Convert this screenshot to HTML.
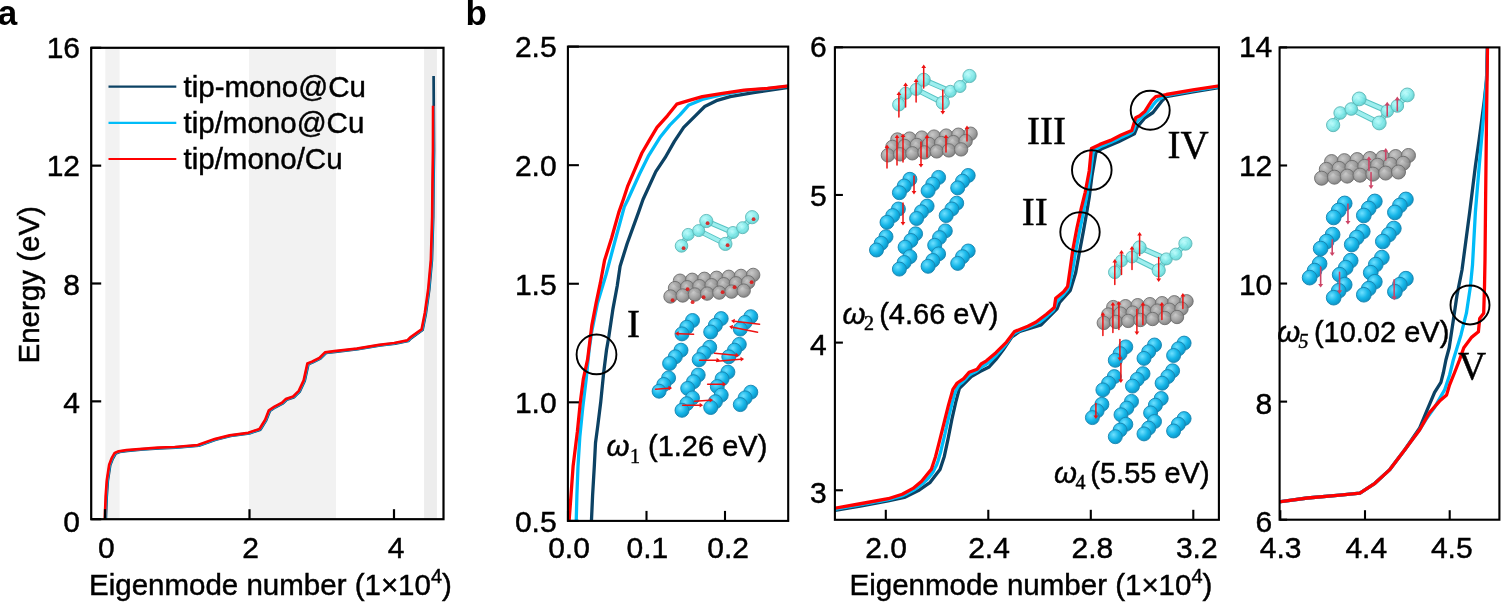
<!DOCTYPE html>
<html><head><meta charset="utf-8"><style>
html,body{margin:0;padding:0;background:#fff;}
svg{display:block;}
</style></head><body>
<svg width="1501" height="602" viewBox="0 0 1501 602">
<rect width="1501" height="602" fill="#fff"/>
<rect x="105.3" y="47.8" width="14.3" height="471.40000000000003" fill="#f2f2f2"/>
<rect x="249" y="47.8" width="87" height="471.40000000000003" fill="#f2f2f2"/>
<rect x="424.1" y="47.8" width="12.8" height="471.40000000000003" fill="#ededed"/>
<polyline points="105.8,519.6 106.7,496.8 107.8,481.1 110.2,465.3 112.6,459.0 115.7,453.5 119.7,451.9 127.5,450.8 143.3,449.5 159.1,448.3 175.7,447.6 198.8,445.7 215.7,439.7 230.6,436.0 249.3,433.4 260.5,429.6 266.2,420.3 269.9,410.9 275.5,407.2 283.0,403.4 286.7,399.7 294.2,397.1 299.8,391.5 304.7,381.0 308.4,364.2 312.9,362.3 320.4,358.6 326.0,353.0 335.3,351.8 357.8,349.2 380.2,345.5 395.2,343.6 408.3,341.0 411.0,338.3 422.6,330.0 425.9,313.4 429.2,290.1 431.9,260.2 433.2,217.0 433.5,183.8 434.0,150.6 433.6,76.0" fill="none" stroke="#0c4264" stroke-width="2.7" stroke-linejoin="round" stroke-linecap="butt"/>
<polyline points="105.3,519.3 106.2,496.5 107.3,480.8 109.7,465.0 112.1,458.7 115.2,453.2 119.2,451.6 127.0,450.5 142.8,449.2 158.6,448.0 175.2,447.3 198.3,445.4 215.2,439.4 230.1,435.7 248.8,433.1 260.0,429.3 265.7,420.0 269.4,410.6 275.0,406.9 282.5,403.1 286.2,399.4 293.7,396.8 299.3,391.2 304.2,380.7 307.9,363.9 312.4,362.0 319.9,358.3 325.5,352.7 334.8,351.5 357.3,348.9 379.7,345.2 394.7,343.3 407.8,340.7 410.5,338.0 422.1,329.7 425.4,313.1 428.7,289.8 431.4,259.9 432.7,216.7 433.0,183.5 433.5,150.3 433.6,106.0" fill="none" stroke="#00bcf8" stroke-width="2.7" stroke-linejoin="round" stroke-linecap="butt"/>
<polyline points="104.8,519.0 105.7,496.2 106.8,480.5 109.2,464.7 111.6,458.4 114.7,452.9 118.7,451.3 126.5,450.2 142.3,448.9 158.1,447.7 174.7,447.0 197.8,445.1 214.7,439.1 229.6,435.4 248.3,432.8 259.5,429.0 265.2,419.7 268.9,410.3 274.5,406.6 282.0,402.8 285.7,399.1 293.2,396.5 298.8,390.9 303.7,380.4 307.4,363.6 311.9,361.7 319.4,358.0 325.0,352.4 334.3,351.2 356.8,348.6 379.2,344.9 394.2,343.0 407.3,340.4 410.0,337.7 421.6,329.4 424.9,312.8 428.2,289.5 430.9,259.6 432.2,216.4 432.5,183.2 433.0,150.0 433.1,105.7" fill="none" stroke="#ff0000" stroke-width="2.7" stroke-linejoin="round" stroke-linecap="butt"/>
<rect x="91.20" y="47.80" width="352.30" height="471.40" fill="none" stroke="#000" stroke-width="2.2"/>
<line x1="91.20" y1="519.20" x2="101.20" y2="519.20" stroke="#000" stroke-width="2.2"/>
<text x="80.0" y="532.1" font-size="30" text-anchor="end" font-family="'Liberation Sans', Arial, Helvetica, sans-serif" font-weight="normal" font-style="normal" stroke="#000" stroke-width="0.45" >0</text>
<line x1="91.20" y1="401.35" x2="101.20" y2="401.35" stroke="#000" stroke-width="2.2"/>
<text x="80.0" y="413.4" font-size="30" text-anchor="end" font-family="'Liberation Sans', Arial, Helvetica, sans-serif" font-weight="normal" font-style="normal" stroke="#000" stroke-width="0.45" >4</text>
<line x1="91.20" y1="283.50" x2="101.20" y2="283.50" stroke="#000" stroke-width="2.2"/>
<text x="80.0" y="294.8" font-size="30" text-anchor="end" font-family="'Liberation Sans', Arial, Helvetica, sans-serif" font-weight="normal" font-style="normal" stroke="#000" stroke-width="0.45" >8</text>
<line x1="91.20" y1="165.65" x2="101.20" y2="165.65" stroke="#000" stroke-width="2.2"/>
<text x="80.0" y="176.1" font-size="30" text-anchor="end" font-family="'Liberation Sans', Arial, Helvetica, sans-serif" font-weight="normal" font-style="normal" stroke="#000" stroke-width="0.45" >12</text>
<line x1="91.20" y1="47.80" x2="101.20" y2="47.80" stroke="#000" stroke-width="2.2"/>
<text x="80.0" y="57.5" font-size="30" text-anchor="end" font-family="'Liberation Sans', Arial, Helvetica, sans-serif" font-weight="normal" font-style="normal" stroke="#000" stroke-width="0.45" >16</text>
<line x1="105.00" y1="519.20" x2="105.00" y2="509.20" stroke="#000" stroke-width="2.2"/>
<text x="106.3" y="558.0" font-size="30" text-anchor="middle" font-family="'Liberation Sans', Arial, Helvetica, sans-serif" font-weight="normal" font-style="normal" stroke="#000" stroke-width="0.45" >0</text>
<line x1="249.50" y1="519.20" x2="249.50" y2="509.20" stroke="#000" stroke-width="2.2"/>
<text x="250.7" y="558.0" font-size="30" text-anchor="middle" font-family="'Liberation Sans', Arial, Helvetica, sans-serif" font-weight="normal" font-style="normal" stroke="#000" stroke-width="0.45" >2</text>
<line x1="394.00" y1="519.20" x2="394.00" y2="509.20" stroke="#000" stroke-width="2.2"/>
<text x="396.1" y="558.0" font-size="30" text-anchor="middle" font-family="'Liberation Sans', Arial, Helvetica, sans-serif" font-weight="normal" font-style="normal" stroke="#000" stroke-width="0.45" >4</text>
<line x1="108.50" y1="86.60" x2="176.30" y2="86.60" stroke="#0c4264" stroke-width="2.2"/>
<text x="183.5" y="97.0" font-size="29.5" text-anchor="start" font-family="'Liberation Sans', Arial, Helvetica, sans-serif" font-weight="normal" font-style="normal" stroke="#000" stroke-width="0.45" >tip-mono@Cu</text>
<line x1="108.50" y1="122.80" x2="176.30" y2="122.80" stroke="#00bcf8" stroke-width="2.2"/>
<text x="183.5" y="133.2" font-size="29.5" text-anchor="start" font-family="'Liberation Sans', Arial, Helvetica, sans-serif" font-weight="normal" font-style="normal" stroke="#000" stroke-width="0.45" >tip/mono@Cu</text>
<line x1="108.50" y1="159.00" x2="176.30" y2="159.00" stroke="#ff0000" stroke-width="2.2"/>
<text x="183.5" y="169.4" font-size="29.5" text-anchor="start" font-family="'Liberation Sans', Arial, Helvetica, sans-serif" font-weight="normal" font-style="normal" stroke="#000" stroke-width="0.45" >tip/mono/Cu</text>
<text x="89.0" y="594.9" font-size="29.5" text-anchor="start" font-family="'Liberation Sans', Arial, Helvetica, sans-serif" font-weight="normal" font-style="normal" stroke="#000" stroke-width="0.45" >Eigenmode number (1×10<tspan font-size="20" dy="-12">4</tspan><tspan dy="12">)</tspan></text>
<text transform="translate(38.9,284.8) rotate(-90)" font-size="29.5" text-anchor="middle" font-family="'Liberation Sans', Arial, Helvetica, sans-serif" stroke="#000" stroke-width="0.45">Energy (eV)</text>
<text x="-2.3" y="24.8" font-size="35" text-anchor="start" font-family="'Liberation Sans', Arial, Helvetica, sans-serif" font-weight="bold" font-style="normal" >a</text>
<text x="465.5" y="24.8" font-size="35" text-anchor="start" font-family="'Liberation Sans', Arial, Helvetica, sans-serif" font-weight="bold" font-style="normal" >b</text>
<clipPath id="c1"><rect x="567.9" y="46.6" width="220.30000000000007" height="474.29999999999995"/></clipPath>
<g clip-path="url(#c1)">
<polyline points="591.4,522.0 592.6,495.3 594.3,466.3 595.5,443.0 597.8,425.6 600.7,402.3 603.6,373.3 606.5,350.0 608.8,336.8 613.0,308.6 617.2,286.0 620.1,266.2 627.1,243.7 638.4,212.6 643.0,199.5 655.8,171.6 665.1,157.7 674.4,141.4 683.7,127.4 695.3,115.8 704.7,106.5 716.3,100.7 730.2,96.7 753.5,92.6 790.0,87.3" fill="none" stroke="#0c4264" stroke-width="3.3" stroke-linejoin="round" stroke-linecap="butt"/>
<polyline points="576.2,522.0 576.9,495.3 578.0,466.3 579.8,437.2 582.7,408.1 586.2,379.1 589.1,350.0 591.8,331.2 597.5,303.0 606.0,274.7 615.8,238.0 624.3,206.9 627.9,199.5 639.5,174.0 648.8,155.3 660.5,136.7 669.8,125.1 680.2,114.7 688.4,105.3 702.3,99.5 720.9,94.9 744.2,90.6 767.4,88.6 790.0,86.0" fill="none" stroke="#00bcf8" stroke-width="3.3" stroke-linejoin="round" stroke-linecap="butt"/>
<polyline points="569.0,522.0 571.0,495.3 573.1,466.3 577.4,431.4 580.3,402.3 583.3,379.1 587.6,359.4 591.8,325.6 596.1,303.0 600.3,283.2 604.5,260.6 611.6,238.0 618.7,212.6 623.3,199.5 627.9,185.6 634.9,169.3 641.9,153.0 650.0,139.1 657.0,127.4 667.4,115.8 676.7,104.2 688.4,100.7 702.3,96.7 720.9,93.7 744.2,90.2 767.4,88.4 790.0,85.8" fill="none" stroke="#ff0000" stroke-width="3.3" stroke-linejoin="round" stroke-linecap="butt"/>
</g>
<rect x="567.90" y="46.60" width="220.30" height="474.30" fill="none" stroke="#000" stroke-width="2.1"/>
<line x1="567.90" y1="520.90" x2="578.90" y2="520.90" stroke="#000" stroke-width="2.1"/>
<text x="556.6" y="532.3" font-size="30" text-anchor="end" font-family="'Liberation Sans', Arial, Helvetica, sans-serif" font-weight="normal" font-style="normal" stroke="#000" stroke-width="0.45" >0.5</text>
<line x1="567.90" y1="402.32" x2="578.90" y2="402.32" stroke="#000" stroke-width="2.1"/>
<text x="556.6" y="413.4" font-size="30" text-anchor="end" font-family="'Liberation Sans', Arial, Helvetica, sans-serif" font-weight="normal" font-style="normal" stroke="#000" stroke-width="0.45" >1.0</text>
<line x1="567.90" y1="283.75" x2="578.90" y2="283.75" stroke="#000" stroke-width="2.1"/>
<text x="556.6" y="294.6" font-size="30" text-anchor="end" font-family="'Liberation Sans', Arial, Helvetica, sans-serif" font-weight="normal" font-style="normal" stroke="#000" stroke-width="0.45" >1.5</text>
<line x1="567.90" y1="165.18" x2="578.90" y2="165.18" stroke="#000" stroke-width="2.1"/>
<text x="556.6" y="175.8" font-size="30" text-anchor="end" font-family="'Liberation Sans', Arial, Helvetica, sans-serif" font-weight="normal" font-style="normal" stroke="#000" stroke-width="0.45" >2.0</text>
<line x1="567.90" y1="46.60" x2="578.90" y2="46.60" stroke="#000" stroke-width="2.1"/>
<text x="556.6" y="56.9" font-size="30" text-anchor="end" font-family="'Liberation Sans', Arial, Helvetica, sans-serif" font-weight="normal" font-style="normal" stroke="#000" stroke-width="0.45" >2.5</text>
<line x1="568.00" y1="520.90" x2="568.00" y2="510.90" stroke="#000" stroke-width="2.1"/>
<text x="569.0" y="558.0" font-size="30" text-anchor="middle" font-family="'Liberation Sans', Arial, Helvetica, sans-serif" font-weight="normal" font-style="normal" stroke="#000" stroke-width="0.45" >0.0</text>
<line x1="646.50" y1="520.90" x2="646.50" y2="510.90" stroke="#000" stroke-width="2.1"/>
<text x="647.4" y="558.0" font-size="30" text-anchor="middle" font-family="'Liberation Sans', Arial, Helvetica, sans-serif" font-weight="normal" font-style="normal" stroke="#000" stroke-width="0.45" >0.1</text>
<line x1="725.00" y1="520.90" x2="725.00" y2="510.90" stroke="#000" stroke-width="2.1"/>
<text x="728.2" y="558.0" font-size="30" text-anchor="middle" font-family="'Liberation Sans', Arial, Helvetica, sans-serif" font-weight="normal" font-style="normal" stroke="#000" stroke-width="0.45" >0.2</text>
<clipPath id="c2"><rect x="834.9" y="47.3" width="384.0000000000001" height="472.49999999999994"/></clipPath>
<g clip-path="url(#c2)">
<polyline points="833.0,510.8 861.6,505.8 888.1,501.0 904.3,497.4 919.4,489.9 930.2,482.3 940.0,469.4 944.3,456.4 948.0,439.1 951.8,419.7 955.7,402.4 959.4,388.4 964.8,383.0 971.3,376.5 980.0,371.5 989.1,367.0 995.9,359.4 1003.0,350.0 1011.9,336.8 1019.8,331.5 1041.1,324.9 1057.0,308.9 1059.6,302.3 1070.3,290.3 1075.6,273.1 1079.5,251.9 1083.5,230.6 1086.8,212.0 1089.2,197.6 1091.9,176.3 1095.9,152.4 1102.5,148.4 1118.5,141.8 1134.4,133.8 1137.1,127.1 1145.0,117.8 1153.0,112.5 1162.3,100.6 1166.3,96.6 1192.9,91.8 1221.0,87.2" fill="none" stroke="#0c4264" stroke-width="3.3" stroke-linejoin="round" stroke-linecap="butt"/>
<polyline points="833.0,509.5 835.1,509.2 837.2,508.8 839.4,508.4 841.5,508.1 843.6,507.7 845.7,507.3 847.9,506.9 850.0,506.6 852.1,506.2 854.2,505.8 856.3,505.5 858.5,505.1 860.6,504.7 862.7,504.3 864.8,503.9 867.0,503.6 869.1,503.2 871.2,502.8 873.3,502.4 875.4,502.0 877.6,501.6 879.7,501.3 881.8,500.9 883.9,500.5 886.0,500.1 888.2,499.7 890.2,499.1 892.3,498.6 894.4,498.0 896.5,497.4 898.5,496.9 900.6,496.3 902.7,495.7 904.6,494.8 906.6,493.9 908.5,492.9 910.4,491.9 912.3,490.9 914.1,489.8 915.9,488.6 917.7,487.4 919.4,486.1 921.1,484.8 922.8,483.5 924.3,482.0 925.9,480.5 927.4,479.0 928.9,477.5 930.2,475.8 931.6,474.1 932.8,472.4 933.8,470.5 934.7,468.6 935.7,466.7 936.7,464.8 937.4,462.8 938.1,460.7 938.7,458.7 939.3,456.6 939.9,454.5 940.5,452.5 941.0,450.4 941.5,448.3 942.0,446.2 942.5,444.1 943.0,442.0 943.5,439.9 944.0,437.8 944.5,435.7 945.0,433.6 945.4,431.5 945.9,429.4 946.4,427.3 946.8,425.2 947.3,423.1 947.8,421.0 948.3,418.9 948.7,416.8 949.2,414.7 949.7,412.6 950.2,410.5 950.7,408.4 951.3,406.3 951.8,404.2 952.3,402.1 952.9,400.1 953.4,398.0 954.0,395.9 954.5,393.8 955.4,391.9 956.3,389.9 957.2,388.0 958.2,386.2 959.4,384.6 961.1,383.2 962.8,381.9 964.3,380.4 965.8,378.8 967.2,377.2 968.7,375.6 970.4,374.4 972.2,373.3 974.1,372.5 976.1,371.6 977.7,370.2 979.3,368.8 980.9,367.4 982.7,366.3 984.5,365.2 986.4,364.2 988.2,363.0 989.8,361.6 991.4,360.1 992.9,358.6 994.5,357.1 996.0,355.6 997.4,354.0 998.8,352.4 1000.3,350.8 1001.7,349.2 1003.1,347.6 1004.5,345.9 1005.9,344.3 1007.1,342.5 1008.4,340.8 1009.6,339.0 1010.9,337.3 1012.2,335.5 1013.5,333.8 1015.4,332.8 1017.3,331.8 1019.2,330.9 1021.1,329.9 1023.1,329.1 1025.1,328.4 1027.1,327.6 1029.1,326.8 1031.1,326.0 1033.1,325.1 1035.0,324.3 1036.9,323.3 1038.8,322.3 1040.6,321.3 1042.4,320.1 1044.1,318.7 1045.7,317.3 1047.3,315.9 1048.9,314.4 1050.5,313.0 1052.1,311.5 1053.5,310.0 1054.3,308.1 1055.2,306.3 1056.0,304.4 1056.6,302.4 1057.8,300.7 1059.1,299.0 1060.5,297.4 1062.1,296.0 1063.6,294.4 1064.9,292.8 1066.3,291.1 1067.6,289.4 1068.4,287.5 1069.2,285.6 1069.7,283.5 1070.1,281.4 1070.6,279.3 1071.0,277.2 1071.5,275.1 1071.9,273.0 1072.4,270.9 1072.8,268.8 1073.2,266.7 1073.5,264.6 1073.9,262.4 1074.2,260.3 1074.6,258.2 1074.9,256.0 1075.2,253.9 1075.6,251.8 1076.0,249.7 1076.4,247.6 1076.8,245.4 1077.2,243.3 1077.6,241.2 1078.0,239.1 1078.4,237.0 1078.8,234.9 1079.2,232.7 1079.6,230.6 1080.1,228.5 1080.5,226.4 1080.9,224.3 1081.4,222.2 1081.8,220.1 1082.2,218.0 1082.6,215.8 1083.1,213.7 1083.5,211.6 1083.9,209.5 1084.4,207.4 1084.8,205.3 1085.3,203.2 1085.7,201.1 1086.2,199.0 1086.6,196.9 1087.0,194.8 1087.4,192.6 1087.7,190.5 1088.1,188.4 1088.4,186.3 1088.7,184.1 1089.1,182.0 1089.4,179.9 1089.8,177.7 1090.1,175.6 1090.4,173.5 1090.6,171.3 1090.9,169.2 1091.2,167.1 1091.4,164.9 1091.7,162.8 1092.0,160.7 1092.3,158.5 1092.5,156.4 1092.8,154.3 1093.2,152.2 1094.4,150.7 1095.7,149.3 1097.5,148.2 1099.4,147.2 1101.3,146.3 1103.3,145.4 1105.3,144.6 1107.3,143.8 1109.3,143.0 1111.3,142.2 1113.2,141.3 1115.2,140.4 1117.1,139.5 1119.1,138.5 1121.0,137.6 1123.0,136.7 1124.9,135.8 1126.9,134.9 1128.8,134.0 1130.8,133.1 1132.3,131.8 1133.5,130.2 1134.2,128.2 1134.9,126.2 1135.6,124.1 1136.5,122.2 1137.8,120.6 1139.5,119.3 1141.1,117.9 1142.6,116.4 1144.2,114.9 1145.8,113.6 1147.3,112.0 1148.7,110.5 1150.1,108.9 1151.5,107.3 1152.7,105.5 1154.0,103.8 1155.4,102.2 1156.9,100.6 1158.5,99.4 1160.3,98.4 1162.1,97.5 1163.9,96.6 1165.8,95.7 1167.9,95.2 1170.0,94.8 1172.1,94.4 1174.2,94.0 1176.4,93.7 1178.5,93.3 1180.6,92.9 1182.7,92.6 1184.8,92.2 1187.0,91.8 1189.1,91.4 1191.2,91.1 1193.3,90.7 1195.5,90.4 1197.6,90.0 1199.7,89.7 1201.8,89.3 1204.0,89.0 1206.1,88.7 1208.2,88.3 1210.4,88.0 1212.5,87.7 1214.6,87.3 1216.7,87.0 1218.9,86.7 1221.0,86.3" fill="none" stroke="#00bcf8" stroke-width="3.3" stroke-linejoin="round" stroke-linecap="butt"/>
<polyline points="833.0,508.5 861.6,503.5 888.1,498.7 902.2,494.2 913.0,488.4 921.6,481.2 931.3,469.4 935.6,456.4 940.0,439.1 944.3,421.8 948.6,404.6 952.9,389.4 957.2,383.0 963.7,378.6 969.1,372.2 977.1,369.3 981.1,364.0 986.4,360.8 995.9,352.7 1006.5,342.1 1014.5,331.5 1027.8,326.2 1035.7,322.2 1046.4,314.2 1054.3,307.6 1055.7,298.3 1063.6,291.7 1067.6,286.4 1070.3,267.8 1072.9,249.2 1076.9,228.0 1081.3,208.2 1085.2,192.3 1089.2,171.0 1091.4,148.4 1099.9,144.4 1110.5,140.4 1121.1,135.1 1131.8,130.6 1135.7,117.8 1139.7,115.7 1145.0,111.2 1151.7,100.6 1155.7,96.6 1166.3,94.5 1192.9,89.9 1221.0,85.6" fill="none" stroke="#ff0000" stroke-width="3.3" stroke-linejoin="round" stroke-linecap="butt"/>
</g>
<rect x="834.90" y="47.30" width="384.00" height="472.50" fill="none" stroke="#000" stroke-width="2.1"/>
<line x1="834.90" y1="490.27" x2="842.90" y2="490.27" stroke="#000" stroke-width="2.1"/>
<text x="826.8" y="503.3" font-size="30" text-anchor="end" font-family="'Liberation Sans', Arial, Helvetica, sans-serif" font-weight="normal" font-style="normal" stroke="#000" stroke-width="0.45" >3</text>
<line x1="834.90" y1="342.61" x2="842.90" y2="342.61" stroke="#000" stroke-width="2.1"/>
<text x="826.8" y="354.5" font-size="30" text-anchor="end" font-family="'Liberation Sans', Arial, Helvetica, sans-serif" font-weight="normal" font-style="normal" stroke="#000" stroke-width="0.45" >4</text>
<line x1="834.90" y1="194.96" x2="842.90" y2="194.96" stroke="#000" stroke-width="2.1"/>
<text x="826.8" y="205.7" font-size="30" text-anchor="end" font-family="'Liberation Sans', Arial, Helvetica, sans-serif" font-weight="normal" font-style="normal" stroke="#000" stroke-width="0.45" >5</text>
<line x1="834.90" y1="47.30" x2="842.90" y2="47.30" stroke="#000" stroke-width="2.1"/>
<text x="826.8" y="56.9" font-size="30" text-anchor="end" font-family="'Liberation Sans', Arial, Helvetica, sans-serif" font-weight="normal" font-style="normal" stroke="#000" stroke-width="0.45" >6</text>
<line x1="885.80" y1="519.80" x2="885.80" y2="509.80" stroke="#000" stroke-width="2.1"/>
<text x="886.0" y="558.0" font-size="30" text-anchor="middle" font-family="'Liberation Sans', Arial, Helvetica, sans-serif" font-weight="normal" font-style="normal" stroke="#000" stroke-width="0.45" >2.0</text>
<line x1="988.30" y1="519.80" x2="988.30" y2="509.80" stroke="#000" stroke-width="2.1"/>
<text x="989.0" y="558.0" font-size="30" text-anchor="middle" font-family="'Liberation Sans', Arial, Helvetica, sans-serif" font-weight="normal" font-style="normal" stroke="#000" stroke-width="0.45" >2.4</text>
<line x1="1090.80" y1="519.80" x2="1090.80" y2="509.80" stroke="#000" stroke-width="2.1"/>
<text x="1092.4" y="558.0" font-size="30" text-anchor="middle" font-family="'Liberation Sans', Arial, Helvetica, sans-serif" font-weight="normal" font-style="normal" stroke="#000" stroke-width="0.45" >2.8</text>
<line x1="1193.30" y1="519.80" x2="1193.30" y2="509.80" stroke="#000" stroke-width="2.1"/>
<text x="1196.8" y="558.0" font-size="30" text-anchor="middle" font-family="'Liberation Sans', Arial, Helvetica, sans-serif" font-weight="normal" font-style="normal" stroke="#000" stroke-width="0.45" >3.2</text>
<text x="849.5" y="594.9" font-size="29.5" text-anchor="start" font-family="'Liberation Sans', Arial, Helvetica, sans-serif" font-weight="normal" font-style="normal" stroke="#000" stroke-width="0.45" >Eigenmode number (1×10<tspan font-size="20" dy="-12">4</tspan><tspan dy="12">)</tspan></text>
<clipPath id="c3"><rect x="1279.6" y="47.4" width="219.80000000000018" height="472.30000000000007"/></clipPath>
<g clip-path="url(#c3)">
<polyline points="1278.0,502.0 1307.4,498.0 1340.0,495.2 1359.9,493.2 1374.9,483.3 1389.8,469.6 1404.8,449.7 1419.7,428.0 1427.2,409.8 1434.6,392.4 1440.9,382.4 1443.4,372.5 1445.9,360.0 1449.2,347.7 1453.2,321.1 1457.1,294.6 1462.0,270.0 1469.7,212.0 1475.4,166.0 1479.2,139.3 1484.2,101.1 1486.5,80.0 1487.6,40.0" fill="none" stroke="#0c4264" stroke-width="3.3" stroke-linejoin="round" stroke-linecap="butt"/>
<polyline points="1278.0,502.0 1307.4,498.0 1340.0,495.2 1359.9,493.2 1374.9,483.3 1389.8,469.6 1404.8,449.7 1419.7,429.7 1427.0,418.0 1434.6,407.3 1444.6,389.9 1449.6,375.0 1453.3,360.0 1461.1,334.4 1466.4,313.2 1470.4,286.6 1472.5,265.0 1475.4,212.0 1479.2,166.0 1484.2,108.8 1486.5,80.0 1487.6,40.0" fill="none" stroke="#00bcf8" stroke-width="3.3" stroke-linejoin="round" stroke-linecap="butt"/>
<polyline points="1278.0,502.0 1307.4,498.0 1340.0,495.2 1359.9,493.2 1374.9,483.3 1389.8,469.6 1404.8,449.7 1419.7,429.7 1429.7,412.3 1439.6,401.1 1446.6,394.9 1449.6,384.9 1454.6,372.5 1459.5,360.0 1463.8,347.7 1471.8,337.1 1478.4,331.8 1479.7,318.5 1483.7,313.2 1484.5,286.6 1485.0,260.0 1485.6,200.0 1486.5,120.0 1487.6,40.0" fill="none" stroke="#ff0000" stroke-width="3.3" stroke-linejoin="round" stroke-linecap="butt"/>
</g>
<rect x="1279.60" y="47.40" width="219.80" height="472.30" fill="none" stroke="#000" stroke-width="2.1"/>
<line x1="1279.60" y1="519.70" x2="1287.10" y2="519.70" stroke="#000" stroke-width="2.1"/>
<text x="1272.3" y="532.0" font-size="30" text-anchor="end" font-family="'Liberation Sans', Arial, Helvetica, sans-serif" font-weight="normal" font-style="normal" stroke="#000" stroke-width="0.45" >6</text>
<line x1="1279.60" y1="401.62" x2="1287.10" y2="401.62" stroke="#000" stroke-width="2.1"/>
<text x="1272.3" y="414.0" font-size="30" text-anchor="end" font-family="'Liberation Sans', Arial, Helvetica, sans-serif" font-weight="normal" font-style="normal" stroke="#000" stroke-width="0.45" >8</text>
<line x1="1279.60" y1="283.55" x2="1287.10" y2="283.55" stroke="#000" stroke-width="2.1"/>
<text x="1272.3" y="294.5" font-size="30" text-anchor="end" font-family="'Liberation Sans', Arial, Helvetica, sans-serif" font-weight="normal" font-style="normal" stroke="#000" stroke-width="0.45" >10</text>
<line x1="1279.60" y1="165.48" x2="1287.10" y2="165.48" stroke="#000" stroke-width="2.1"/>
<text x="1272.3" y="175.8" font-size="30" text-anchor="end" font-family="'Liberation Sans', Arial, Helvetica, sans-serif" font-weight="normal" font-style="normal" stroke="#000" stroke-width="0.45" >12</text>
<line x1="1279.60" y1="47.40" x2="1287.10" y2="47.40" stroke="#000" stroke-width="2.1"/>
<text x="1272.3" y="57.1" font-size="30" text-anchor="end" font-family="'Liberation Sans', Arial, Helvetica, sans-serif" font-weight="normal" font-style="normal" stroke="#000" stroke-width="0.45" >14</text>
<line x1="1280.30" y1="519.70" x2="1280.30" y2="510.20" stroke="#000" stroke-width="2.1"/>
<text x="1280.6" y="558.0" font-size="30" text-anchor="middle" font-family="'Liberation Sans', Arial, Helvetica, sans-serif" font-weight="normal" font-style="normal" stroke="#000" stroke-width="0.45" >4.3</text>
<line x1="1365.00" y1="519.70" x2="1365.00" y2="510.20" stroke="#000" stroke-width="2.1"/>
<text x="1366.3" y="558.0" font-size="30" text-anchor="middle" font-family="'Liberation Sans', Arial, Helvetica, sans-serif" font-weight="normal" font-style="normal" stroke="#000" stroke-width="0.45" >4.4</text>
<line x1="1449.70" y1="519.70" x2="1449.70" y2="510.20" stroke="#000" stroke-width="2.1"/>
<text x="1451.8" y="558.0" font-size="30" text-anchor="middle" font-family="'Liberation Sans', Arial, Helvetica, sans-serif" font-weight="normal" font-style="normal" stroke="#000" stroke-width="0.45" >4.5</text>
<defs><radialGradient id="gCu" cx="0.38" cy="0.35" r="0.7"><stop offset="0" stop-color="#6fe0ff"/><stop offset="0.55" stop-color="#16b6e8"/><stop offset="1" stop-color="#0b8fc0"/></radialGradient><radialGradient id="gGr" cx="0.38" cy="0.35" r="0.7"><stop offset="0" stop-color="#c4c4c4"/><stop offset="0.6" stop-color="#9a9a9a"/><stop offset="1" stop-color="#747474"/></radialGradient><radialGradient id="gTip" cx="0.4" cy="0.38" r="0.7"><stop offset="0" stop-color="#c4ffff"/><stop offset="0.6" stop-color="#7ae6e6"/><stop offset="1" stop-color="#4cc4c4"/></radialGradient></defs>
<g transform="translate(-217.4,141.2)">
<line x1="898.9" y1="104.7" x2="905.6" y2="93.2" stroke="#56c4c4" stroke-width="5.5" stroke-linecap="round"/>
<line x1="898.9" y1="104.7" x2="905.6" y2="93.2" stroke="#9eeeee" stroke-width="3.5" stroke-linecap="round"/>
<line x1="905.6" y1="93.2" x2="916.1" y2="89.4" stroke="#56c4c4" stroke-width="5.5" stroke-linecap="round"/>
<line x1="905.6" y1="93.2" x2="916.1" y2="89.4" stroke="#9eeeee" stroke-width="3.5" stroke-linecap="round"/>
<line x1="916.1" y1="89.4" x2="923.7" y2="79.8" stroke="#56c4c4" stroke-width="5.5" stroke-linecap="round"/>
<line x1="916.1" y1="89.4" x2="923.7" y2="79.8" stroke="#9eeeee" stroke-width="3.5" stroke-linecap="round"/>
<line x1="923.7" y1="79.8" x2="950.4" y2="91.3" stroke="#56c4c4" stroke-width="5.5" stroke-linecap="round"/>
<line x1="923.7" y1="79.8" x2="950.4" y2="91.3" stroke="#9eeeee" stroke-width="3.5" stroke-linecap="round"/>
<line x1="916.1" y1="89.4" x2="942.8" y2="102.7" stroke="#56c4c4" stroke-width="5.5" stroke-linecap="round"/>
<line x1="916.1" y1="89.4" x2="942.8" y2="102.7" stroke="#9eeeee" stroke-width="3.5" stroke-linecap="round"/>
<line x1="942.8" y1="102.7" x2="950.4" y2="91.3" stroke="#56c4c4" stroke-width="5.5" stroke-linecap="round"/>
<line x1="942.8" y1="102.7" x2="950.4" y2="91.3" stroke="#9eeeee" stroke-width="3.5" stroke-linecap="round"/>
<line x1="950.4" y1="91.3" x2="960.0" y2="86.5" stroke="#56c4c4" stroke-width="5.5" stroke-linecap="round"/>
<line x1="950.4" y1="91.3" x2="960.0" y2="86.5" stroke="#9eeeee" stroke-width="3.5" stroke-linecap="round"/>
<line x1="960.0" y1="86.5" x2="969.5" y2="76.0" stroke="#56c4c4" stroke-width="5.5" stroke-linecap="round"/>
<line x1="960.0" y1="86.5" x2="969.5" y2="76.0" stroke="#9eeeee" stroke-width="3.5" stroke-linecap="round"/>
<circle cx="898.9" cy="104.7" r="6.3" fill="url(#gTip)" stroke="#5fb8b8" stroke-width="0.9" fill-opacity="0.9"/>
<circle cx="905.6" cy="93.2" r="6.0" fill="url(#gTip)" stroke="#5fb8b8" stroke-width="0.9" fill-opacity="0.9"/>
<circle cx="916.1" cy="89.4" r="6.0" fill="url(#gTip)" stroke="#5fb8b8" stroke-width="0.9" fill-opacity="0.9"/>
<circle cx="923.7" cy="79.8" r="6.6" fill="url(#gTip)" stroke="#5fb8b8" stroke-width="0.9" fill-opacity="0.9"/>
<circle cx="942.8" cy="102.7" r="6.6" fill="url(#gTip)" stroke="#5fb8b8" stroke-width="0.9" fill-opacity="0.9"/>
<circle cx="950.4" cy="91.3" r="6.0" fill="url(#gTip)" stroke="#5fb8b8" stroke-width="0.9" fill-opacity="0.9"/>
<circle cx="960.0" cy="86.5" r="6.0" fill="url(#gTip)" stroke="#5fb8b8" stroke-width="0.9" fill-opacity="0.9"/>
<circle cx="969.5" cy="76.0" r="6.6" fill="url(#gTip)" stroke="#5fb8b8" stroke-width="0.9" fill-opacity="0.9"/>
<circle cx="897.4" cy="139.5" r="6.7" fill="url(#gGr)" stroke="#6e6e6e" stroke-width="0.9" fill-opacity="0.92"/>
<circle cx="909.6" cy="138.6" r="6.7" fill="url(#gGr)" stroke="#6e6e6e" stroke-width="0.9" fill-opacity="0.92"/>
<circle cx="921.8" cy="137.6" r="6.7" fill="url(#gGr)" stroke="#6e6e6e" stroke-width="0.9" fill-opacity="0.92"/>
<circle cx="934.0" cy="136.6" r="6.7" fill="url(#gGr)" stroke="#6e6e6e" stroke-width="0.9" fill-opacity="0.92"/>
<circle cx="946.2" cy="135.6" r="6.7" fill="url(#gGr)" stroke="#6e6e6e" stroke-width="0.9" fill-opacity="0.92"/>
<circle cx="958.4" cy="134.7" r="6.7" fill="url(#gGr)" stroke="#6e6e6e" stroke-width="0.9" fill-opacity="0.92"/>
<circle cx="970.6" cy="133.7" r="6.7" fill="url(#gGr)" stroke="#6e6e6e" stroke-width="0.9" fill-opacity="0.92"/>
<circle cx="892.4" cy="146.9" r="6.7" fill="url(#gGr)" stroke="#6e6e6e" stroke-width="0.9" fill-opacity="0.92"/>
<circle cx="904.6" cy="146.0" r="6.7" fill="url(#gGr)" stroke="#6e6e6e" stroke-width="0.9" fill-opacity="0.92"/>
<circle cx="916.8" cy="145.0" r="6.7" fill="url(#gGr)" stroke="#6e6e6e" stroke-width="0.9" fill-opacity="0.92"/>
<circle cx="929.0" cy="144.0" r="6.7" fill="url(#gGr)" stroke="#6e6e6e" stroke-width="0.9" fill-opacity="0.92"/>
<circle cx="941.2" cy="143.0" r="6.7" fill="url(#gGr)" stroke="#6e6e6e" stroke-width="0.9" fill-opacity="0.92"/>
<circle cx="953.4" cy="142.1" r="6.7" fill="url(#gGr)" stroke="#6e6e6e" stroke-width="0.9" fill-opacity="0.92"/>
<circle cx="965.6" cy="141.1" r="6.7" fill="url(#gGr)" stroke="#6e6e6e" stroke-width="0.9" fill-opacity="0.92"/>
<circle cx="887.9" cy="155.3" r="6.7" fill="url(#gGr)" stroke="#6e6e6e" stroke-width="0.9" fill-opacity="0.92"/>
<circle cx="900.1" cy="154.3" r="6.7" fill="url(#gGr)" stroke="#6e6e6e" stroke-width="0.9" fill-opacity="0.92"/>
<circle cx="912.3" cy="153.3" r="6.7" fill="url(#gGr)" stroke="#6e6e6e" stroke-width="0.9" fill-opacity="0.92"/>
<circle cx="924.5" cy="152.4" r="6.7" fill="url(#gGr)" stroke="#6e6e6e" stroke-width="0.9" fill-opacity="0.92"/>
<circle cx="936.7" cy="151.4" r="6.7" fill="url(#gGr)" stroke="#6e6e6e" stroke-width="0.9" fill-opacity="0.92"/>
<circle cx="948.9" cy="150.4" r="6.7" fill="url(#gGr)" stroke="#6e6e6e" stroke-width="0.9" fill-opacity="0.92"/>
<circle cx="961.1" cy="149.4" r="6.7" fill="url(#gGr)" stroke="#6e6e6e" stroke-width="0.9" fill-opacity="0.92"/>
<circle cx="909.9" cy="179.3" r="7" fill="url(#gCu)" stroke="#1785b0" stroke-width="0.9"/>
<circle cx="904.2" cy="186" r="7" fill="url(#gCu)" stroke="#1785b0" stroke-width="0.9"/>
<circle cx="899.4" cy="192.7" r="7" fill="url(#gCu)" stroke="#1785b0" stroke-width="0.9"/>
<circle cx="938.6" cy="177.4" r="7" fill="url(#gCu)" stroke="#1785b0" stroke-width="0.9"/>
<circle cx="932.8" cy="184.1" r="7" fill="url(#gCu)" stroke="#1785b0" stroke-width="0.9"/>
<circle cx="928.1" cy="190.8" r="7" fill="url(#gCu)" stroke="#1785b0" stroke-width="0.9"/>
<circle cx="968.2" cy="175.5" r="7" fill="url(#gCu)" stroke="#1785b0" stroke-width="0.9"/>
<circle cx="962.5" cy="181.2" r="7" fill="url(#gCu)" stroke="#1785b0" stroke-width="0.9"/>
<circle cx="957.7" cy="187.9" r="7" fill="url(#gCu)" stroke="#1785b0" stroke-width="0.9"/>
<circle cx="898.4" cy="209" r="7" fill="url(#gCu)" stroke="#1785b0" stroke-width="0.9"/>
<circle cx="892.7" cy="215.6" r="7" fill="url(#gCu)" stroke="#1785b0" stroke-width="0.9"/>
<circle cx="887" cy="222.3" r="7" fill="url(#gCu)" stroke="#1785b0" stroke-width="0.9"/>
<circle cx="927.1" cy="206.1" r="7" fill="url(#gCu)" stroke="#1785b0" stroke-width="0.9"/>
<circle cx="921.4" cy="211.8" r="7" fill="url(#gCu)" stroke="#1785b0" stroke-width="0.9"/>
<circle cx="916.6" cy="218.5" r="7" fill="url(#gCu)" stroke="#1785b0" stroke-width="0.9"/>
<circle cx="956.7" cy="203.2" r="7" fill="url(#gCu)" stroke="#1785b0" stroke-width="0.9"/>
<circle cx="951.9" cy="209" r="7" fill="url(#gCu)" stroke="#1785b0" stroke-width="0.9"/>
<circle cx="946.2" cy="215.6" r="7" fill="url(#gCu)" stroke="#1785b0" stroke-width="0.9"/>
<circle cx="886" cy="236.7" r="7" fill="url(#gCu)" stroke="#1785b0" stroke-width="0.9"/>
<circle cx="881.2" cy="243.3" r="7" fill="url(#gCu)" stroke="#1785b0" stroke-width="0.9"/>
<circle cx="876.5" cy="250" r="7" fill="url(#gCu)" stroke="#1785b0" stroke-width="0.9"/>
<circle cx="915.6" cy="233.8" r="7" fill="url(#gCu)" stroke="#1785b0" stroke-width="0.9"/>
<circle cx="910.9" cy="240.5" r="7" fill="url(#gCu)" stroke="#1785b0" stroke-width="0.9"/>
<circle cx="905.1" cy="247.2" r="7" fill="url(#gCu)" stroke="#1785b0" stroke-width="0.9"/>
<circle cx="945.3" cy="230.9" r="7" fill="url(#gCu)" stroke="#1785b0" stroke-width="0.9"/>
<circle cx="939.5" cy="237.6" r="7" fill="url(#gCu)" stroke="#1785b0" stroke-width="0.9"/>
<circle cx="934.7" cy="245.3" r="7" fill="url(#gCu)" stroke="#1785b0" stroke-width="0.9"/>
<circle cx="909.9" cy="256.7" r="7" fill="url(#gCu)" stroke="#1785b0" stroke-width="0.9"/>
<circle cx="904.2" cy="262.5" r="7" fill="url(#gCu)" stroke="#1785b0" stroke-width="0.9"/>
<circle cx="899.4" cy="269.1" r="7" fill="url(#gCu)" stroke="#1785b0" stroke-width="0.9"/>
<circle cx="938.6" cy="253.9" r="7" fill="url(#gCu)" stroke="#1785b0" stroke-width="0.9"/>
<circle cx="932.8" cy="260.5" r="7" fill="url(#gCu)" stroke="#1785b0" stroke-width="0.9"/>
<circle cx="928.1" cy="266.3" r="7" fill="url(#gCu)" stroke="#1785b0" stroke-width="0.9"/>
<circle cx="968.2" cy="251" r="7" fill="url(#gCu)" stroke="#1785b0" stroke-width="0.9"/>
<circle cx="962.5" cy="256.7" r="7" fill="url(#gCu)" stroke="#1785b0" stroke-width="0.9"/>
<circle cx="957.7" cy="263.4" r="7" fill="url(#gCu)" stroke="#1785b0" stroke-width="0.9"/>
<line x1="911.0" y1="193.0" x2="896.0" y2="192.5" stroke="#ee1111" stroke-width="1.5" stroke-linecap="round"/>
<polygon points="892.5,192.4 896.1,190.1 895.9,194.9" fill="#ee1111"/>
<line x1="977.0" y1="183.0" x2="952.0" y2="180.0" stroke="#ee1111" stroke-width="1.5" stroke-linecap="round"/>
<polygon points="948.5,179.6 952.3,177.6 951.7,182.4" fill="#ee1111"/>
<line x1="975.0" y1="191.0" x2="950.0" y2="186.0" stroke="#ee1111" stroke-width="1.5" stroke-linecap="round"/>
<polygon points="946.6,185.3 950.5,183.6 949.5,188.4" fill="#ee1111"/>
<line x1="932.0" y1="212.0" x2="953.0" y2="214.0" stroke="#ee1111" stroke-width="1.5" stroke-linecap="round"/>
<polygon points="956.5,214.3 952.8,216.4 953.2,211.6" fill="#ee1111"/>
<line x1="917.0" y1="219.0" x2="934.0" y2="219.0" stroke="#ee1111" stroke-width="1.5" stroke-linecap="round"/>
<polygon points="937.5,219.0 934.0,221.4 934.0,216.6" fill="#ee1111"/>
<line x1="934.0" y1="220.0" x2="958.0" y2="218.0" stroke="#ee1111" stroke-width="1.5" stroke-linecap="round"/>
<polygon points="961.5,217.7 958.2,220.4 957.8,215.6" fill="#ee1111"/>
<line x1="873.0" y1="248.0" x2="886.0" y2="247.0" stroke="#ee1111" stroke-width="1.5" stroke-linecap="round"/>
<polygon points="889.5,246.7 886.2,249.4 885.8,244.6" fill="#ee1111"/>
<line x1="912.0" y1="260.0" x2="927.0" y2="259.0" stroke="#ee1111" stroke-width="1.5" stroke-linecap="round"/>
<polygon points="930.5,258.8 927.2,261.4 926.8,256.6" fill="#ee1111"/>
<line x1="900.0" y1="264.0" x2="917.0" y2="264.0" stroke="#ee1111" stroke-width="1.5" stroke-linecap="round"/>
<polygon points="920.5,264.0 917.0,266.4 917.0,261.6" fill="#ee1111"/>
<line x1="925.0" y1="243.0" x2="940.0" y2="243.0" stroke="#ee1111" stroke-width="1.5" stroke-linecap="round"/>
<polygon points="943.5,243.0 940.0,245.4 940.0,240.6" fill="#ee1111"/>
</g>
<g transform="translate(-217.4,141.2)">
<circle cx="901" cy="107" r="1.9" fill="#e01010" opacity="0.85"/>
<circle cx="925" cy="82" r="1.9" fill="#e01010" opacity="0.85"/>
<circle cx="945" cy="104" r="1.9" fill="#e01010" opacity="0.85"/>
<circle cx="971" cy="78" r="1.9" fill="#e01010" opacity="0.85"/>
<circle cx="890" cy="159" r="1.9" fill="#e01010" opacity="0.85"/>
<circle cx="905" cy="148" r="1.9" fill="#e01010" opacity="0.85"/>
<circle cx="921" cy="156" r="1.9" fill="#e01010" opacity="0.85"/>
<circle cx="940" cy="151" r="1.9" fill="#e01010" opacity="0.85"/>
<circle cx="969" cy="141" r="1.9" fill="#e01010" opacity="0.85"/>
<circle cx="952" cy="146" r="1.9" fill="#e01010" opacity="0.85"/>
<circle cx="910" cy="161" r="1.9" fill="#e01010" opacity="0.85"/>
</g>
<g transform="translate(0,0)">
<line x1="898.9" y1="104.7" x2="905.6" y2="93.2" stroke="#56c4c4" stroke-width="5.5" stroke-linecap="round"/>
<line x1="898.9" y1="104.7" x2="905.6" y2="93.2" stroke="#9eeeee" stroke-width="3.5" stroke-linecap="round"/>
<line x1="905.6" y1="93.2" x2="916.1" y2="89.4" stroke="#56c4c4" stroke-width="5.5" stroke-linecap="round"/>
<line x1="905.6" y1="93.2" x2="916.1" y2="89.4" stroke="#9eeeee" stroke-width="3.5" stroke-linecap="round"/>
<line x1="916.1" y1="89.4" x2="923.7" y2="79.8" stroke="#56c4c4" stroke-width="5.5" stroke-linecap="round"/>
<line x1="916.1" y1="89.4" x2="923.7" y2="79.8" stroke="#9eeeee" stroke-width="3.5" stroke-linecap="round"/>
<line x1="923.7" y1="79.8" x2="950.4" y2="91.3" stroke="#56c4c4" stroke-width="5.5" stroke-linecap="round"/>
<line x1="923.7" y1="79.8" x2="950.4" y2="91.3" stroke="#9eeeee" stroke-width="3.5" stroke-linecap="round"/>
<line x1="916.1" y1="89.4" x2="942.8" y2="102.7" stroke="#56c4c4" stroke-width="5.5" stroke-linecap="round"/>
<line x1="916.1" y1="89.4" x2="942.8" y2="102.7" stroke="#9eeeee" stroke-width="3.5" stroke-linecap="round"/>
<line x1="942.8" y1="102.7" x2="950.4" y2="91.3" stroke="#56c4c4" stroke-width="5.5" stroke-linecap="round"/>
<line x1="942.8" y1="102.7" x2="950.4" y2="91.3" stroke="#9eeeee" stroke-width="3.5" stroke-linecap="round"/>
<line x1="950.4" y1="91.3" x2="960.0" y2="86.5" stroke="#56c4c4" stroke-width="5.5" stroke-linecap="round"/>
<line x1="950.4" y1="91.3" x2="960.0" y2="86.5" stroke="#9eeeee" stroke-width="3.5" stroke-linecap="round"/>
<line x1="960.0" y1="86.5" x2="969.5" y2="76.0" stroke="#56c4c4" stroke-width="5.5" stroke-linecap="round"/>
<line x1="960.0" y1="86.5" x2="969.5" y2="76.0" stroke="#9eeeee" stroke-width="3.5" stroke-linecap="round"/>
<circle cx="898.9" cy="104.7" r="6.3" fill="url(#gTip)" stroke="#5fb8b8" stroke-width="0.9" fill-opacity="0.9"/>
<circle cx="905.6" cy="93.2" r="6.0" fill="url(#gTip)" stroke="#5fb8b8" stroke-width="0.9" fill-opacity="0.9"/>
<circle cx="916.1" cy="89.4" r="6.0" fill="url(#gTip)" stroke="#5fb8b8" stroke-width="0.9" fill-opacity="0.9"/>
<circle cx="923.7" cy="79.8" r="6.6" fill="url(#gTip)" stroke="#5fb8b8" stroke-width="0.9" fill-opacity="0.9"/>
<circle cx="942.8" cy="102.7" r="6.6" fill="url(#gTip)" stroke="#5fb8b8" stroke-width="0.9" fill-opacity="0.9"/>
<circle cx="950.4" cy="91.3" r="6.0" fill="url(#gTip)" stroke="#5fb8b8" stroke-width="0.9" fill-opacity="0.9"/>
<circle cx="960.0" cy="86.5" r="6.0" fill="url(#gTip)" stroke="#5fb8b8" stroke-width="0.9" fill-opacity="0.9"/>
<circle cx="969.5" cy="76.0" r="6.6" fill="url(#gTip)" stroke="#5fb8b8" stroke-width="0.9" fill-opacity="0.9"/>
<line x1="898.9" y1="117.0" x2="898.9" y2="95.0" stroke="#ee1111" stroke-width="1.5" stroke-linecap="round"/>
<polygon points="898.9,91.5 901.3,95.0 896.5,95.0" fill="#ee1111"/>
<line x1="905.6" y1="107.0" x2="905.6" y2="86.0" stroke="#ee1111" stroke-width="1.5" stroke-linecap="round"/>
<polygon points="905.6,82.5 908.0,86.0 903.2,86.0" fill="#ee1111"/>
<line x1="916.1" y1="102.0" x2="916.1" y2="82.0" stroke="#ee1111" stroke-width="1.5" stroke-linecap="round"/>
<polygon points="916.1,78.5 918.5,82.0 913.7,82.0" fill="#ee1111"/>
<line x1="923.7" y1="88.0" x2="923.7" y2="68.0" stroke="#ee1111" stroke-width="1.5" stroke-linecap="round"/>
<polygon points="923.7,64.5 926.1,68.0 921.3,68.0" fill="#ee1111"/>
<line x1="942.8" y1="90.0" x2="942.8" y2="111.0" stroke="#ee1111" stroke-width="1.5" stroke-linecap="round"/>
<polygon points="942.8,114.5 940.4,111.0 945.2,111.0" fill="#ee1111"/>
<circle cx="897.4" cy="139.5" r="6.7" fill="url(#gGr)" stroke="#6e6e6e" stroke-width="0.9" fill-opacity="0.92"/>
<circle cx="909.6" cy="138.6" r="6.7" fill="url(#gGr)" stroke="#6e6e6e" stroke-width="0.9" fill-opacity="0.92"/>
<circle cx="921.8" cy="137.6" r="6.7" fill="url(#gGr)" stroke="#6e6e6e" stroke-width="0.9" fill-opacity="0.92"/>
<circle cx="934.0" cy="136.6" r="6.7" fill="url(#gGr)" stroke="#6e6e6e" stroke-width="0.9" fill-opacity="0.92"/>
<circle cx="946.2" cy="135.6" r="6.7" fill="url(#gGr)" stroke="#6e6e6e" stroke-width="0.9" fill-opacity="0.92"/>
<circle cx="958.4" cy="134.7" r="6.7" fill="url(#gGr)" stroke="#6e6e6e" stroke-width="0.9" fill-opacity="0.92"/>
<circle cx="970.6" cy="133.7" r="6.7" fill="url(#gGr)" stroke="#6e6e6e" stroke-width="0.9" fill-opacity="0.92"/>
<circle cx="892.4" cy="146.9" r="6.7" fill="url(#gGr)" stroke="#6e6e6e" stroke-width="0.9" fill-opacity="0.92"/>
<circle cx="904.6" cy="146.0" r="6.7" fill="url(#gGr)" stroke="#6e6e6e" stroke-width="0.9" fill-opacity="0.92"/>
<circle cx="916.8" cy="145.0" r="6.7" fill="url(#gGr)" stroke="#6e6e6e" stroke-width="0.9" fill-opacity="0.92"/>
<circle cx="929.0" cy="144.0" r="6.7" fill="url(#gGr)" stroke="#6e6e6e" stroke-width="0.9" fill-opacity="0.92"/>
<circle cx="941.2" cy="143.0" r="6.7" fill="url(#gGr)" stroke="#6e6e6e" stroke-width="0.9" fill-opacity="0.92"/>
<circle cx="953.4" cy="142.1" r="6.7" fill="url(#gGr)" stroke="#6e6e6e" stroke-width="0.9" fill-opacity="0.92"/>
<circle cx="965.6" cy="141.1" r="6.7" fill="url(#gGr)" stroke="#6e6e6e" stroke-width="0.9" fill-opacity="0.92"/>
<circle cx="887.9" cy="155.3" r="6.7" fill="url(#gGr)" stroke="#6e6e6e" stroke-width="0.9" fill-opacity="0.92"/>
<circle cx="900.1" cy="154.3" r="6.7" fill="url(#gGr)" stroke="#6e6e6e" stroke-width="0.9" fill-opacity="0.92"/>
<circle cx="912.3" cy="153.3" r="6.7" fill="url(#gGr)" stroke="#6e6e6e" stroke-width="0.9" fill-opacity="0.92"/>
<circle cx="924.5" cy="152.4" r="6.7" fill="url(#gGr)" stroke="#6e6e6e" stroke-width="0.9" fill-opacity="0.92"/>
<circle cx="936.7" cy="151.4" r="6.7" fill="url(#gGr)" stroke="#6e6e6e" stroke-width="0.9" fill-opacity="0.92"/>
<circle cx="948.9" cy="150.4" r="6.7" fill="url(#gGr)" stroke="#6e6e6e" stroke-width="0.9" fill-opacity="0.92"/>
<circle cx="961.1" cy="149.4" r="6.7" fill="url(#gGr)" stroke="#6e6e6e" stroke-width="0.9" fill-opacity="0.92"/>
<line x1="887.0" y1="168.0" x2="887.0" y2="148.0" stroke="#ee1111" stroke-width="1.5" stroke-linecap="round"/>
<polygon points="887.0,144.5 889.4,148.0 884.6,148.0" fill="#ee1111"/>
<line x1="897.0" y1="165.0" x2="897.0" y2="138.0" stroke="#ee1111" stroke-width="1.5" stroke-linecap="round"/>
<polygon points="897.0,134.5 899.4,138.0 894.6,138.0" fill="#ee1111"/>
<line x1="903.0" y1="162.0" x2="903.0" y2="137.0" stroke="#ee1111" stroke-width="1.5" stroke-linecap="round"/>
<polygon points="903.0,133.5 905.4,137.0 900.6,137.0" fill="#ee1111"/>
<line x1="921.0" y1="142.0" x2="921.0" y2="164.0" stroke="#ee1111" stroke-width="1.5" stroke-linecap="round"/>
<polygon points="921.0,167.5 918.6,164.0 923.4,164.0" fill="#ee1111"/>
<line x1="927.0" y1="157.0" x2="927.0" y2="138.0" stroke="#ee1111" stroke-width="1.5" stroke-linecap="round"/>
<polygon points="927.0,134.5 929.4,138.0 924.6,138.0" fill="#ee1111"/>
<line x1="946.0" y1="152.0" x2="946.0" y2="138.0" stroke="#ee1111" stroke-width="1.5" stroke-linecap="round"/>
<polygon points="946.0,134.5 948.4,138.0 943.6,138.0" fill="#ee1111"/>
<line x1="967.0" y1="141.0" x2="967.0" y2="129.0" stroke="#ee1111" stroke-width="1.5" stroke-linecap="round"/>
<polygon points="967.0,125.5 969.4,129.0 964.6,129.0" fill="#ee1111"/>
<circle cx="909.9" cy="179.3" r="7" fill="url(#gCu)" stroke="#1785b0" stroke-width="0.9"/>
<circle cx="904.2" cy="186" r="7" fill="url(#gCu)" stroke="#1785b0" stroke-width="0.9"/>
<circle cx="899.4" cy="192.7" r="7" fill="url(#gCu)" stroke="#1785b0" stroke-width="0.9"/>
<circle cx="938.6" cy="177.4" r="7" fill="url(#gCu)" stroke="#1785b0" stroke-width="0.9"/>
<circle cx="932.8" cy="184.1" r="7" fill="url(#gCu)" stroke="#1785b0" stroke-width="0.9"/>
<circle cx="928.1" cy="190.8" r="7" fill="url(#gCu)" stroke="#1785b0" stroke-width="0.9"/>
<circle cx="968.2" cy="175.5" r="7" fill="url(#gCu)" stroke="#1785b0" stroke-width="0.9"/>
<circle cx="962.5" cy="181.2" r="7" fill="url(#gCu)" stroke="#1785b0" stroke-width="0.9"/>
<circle cx="957.7" cy="187.9" r="7" fill="url(#gCu)" stroke="#1785b0" stroke-width="0.9"/>
<circle cx="898.4" cy="209" r="7" fill="url(#gCu)" stroke="#1785b0" stroke-width="0.9"/>
<circle cx="892.7" cy="215.6" r="7" fill="url(#gCu)" stroke="#1785b0" stroke-width="0.9"/>
<circle cx="887" cy="222.3" r="7" fill="url(#gCu)" stroke="#1785b0" stroke-width="0.9"/>
<circle cx="927.1" cy="206.1" r="7" fill="url(#gCu)" stroke="#1785b0" stroke-width="0.9"/>
<circle cx="921.4" cy="211.8" r="7" fill="url(#gCu)" stroke="#1785b0" stroke-width="0.9"/>
<circle cx="916.6" cy="218.5" r="7" fill="url(#gCu)" stroke="#1785b0" stroke-width="0.9"/>
<circle cx="956.7" cy="203.2" r="7" fill="url(#gCu)" stroke="#1785b0" stroke-width="0.9"/>
<circle cx="951.9" cy="209" r="7" fill="url(#gCu)" stroke="#1785b0" stroke-width="0.9"/>
<circle cx="946.2" cy="215.6" r="7" fill="url(#gCu)" stroke="#1785b0" stroke-width="0.9"/>
<circle cx="886" cy="236.7" r="7" fill="url(#gCu)" stroke="#1785b0" stroke-width="0.9"/>
<circle cx="881.2" cy="243.3" r="7" fill="url(#gCu)" stroke="#1785b0" stroke-width="0.9"/>
<circle cx="876.5" cy="250" r="7" fill="url(#gCu)" stroke="#1785b0" stroke-width="0.9"/>
<circle cx="915.6" cy="233.8" r="7" fill="url(#gCu)" stroke="#1785b0" stroke-width="0.9"/>
<circle cx="910.9" cy="240.5" r="7" fill="url(#gCu)" stroke="#1785b0" stroke-width="0.9"/>
<circle cx="905.1" cy="247.2" r="7" fill="url(#gCu)" stroke="#1785b0" stroke-width="0.9"/>
<circle cx="945.3" cy="230.9" r="7" fill="url(#gCu)" stroke="#1785b0" stroke-width="0.9"/>
<circle cx="939.5" cy="237.6" r="7" fill="url(#gCu)" stroke="#1785b0" stroke-width="0.9"/>
<circle cx="934.7" cy="245.3" r="7" fill="url(#gCu)" stroke="#1785b0" stroke-width="0.9"/>
<circle cx="909.9" cy="256.7" r="7" fill="url(#gCu)" stroke="#1785b0" stroke-width="0.9"/>
<circle cx="904.2" cy="262.5" r="7" fill="url(#gCu)" stroke="#1785b0" stroke-width="0.9"/>
<circle cx="899.4" cy="269.1" r="7" fill="url(#gCu)" stroke="#1785b0" stroke-width="0.9"/>
<circle cx="938.6" cy="253.9" r="7" fill="url(#gCu)" stroke="#1785b0" stroke-width="0.9"/>
<circle cx="932.8" cy="260.5" r="7" fill="url(#gCu)" stroke="#1785b0" stroke-width="0.9"/>
<circle cx="928.1" cy="266.3" r="7" fill="url(#gCu)" stroke="#1785b0" stroke-width="0.9"/>
<circle cx="968.2" cy="251" r="7" fill="url(#gCu)" stroke="#1785b0" stroke-width="0.9"/>
<circle cx="962.5" cy="256.7" r="7" fill="url(#gCu)" stroke="#1785b0" stroke-width="0.9"/>
<circle cx="957.7" cy="263.4" r="7" fill="url(#gCu)" stroke="#1785b0" stroke-width="0.9"/>
<line x1="914.0" y1="176.0" x2="914.0" y2="191.0" stroke="#ee1111" stroke-width="1.5" stroke-linecap="round"/>
<polygon points="914.0,194.5 911.6,191.0 916.4,191.0" fill="#ee1111"/>
<line x1="903.0" y1="203.0" x2="903.0" y2="222.0" stroke="#ee1111" stroke-width="1.5" stroke-linecap="round"/>
<polygon points="903.0,225.5 900.6,222.0 905.4,222.0" fill="#ee1111"/>
</g>
<g transform="translate(215.9,167.6)">
<line x1="898.9" y1="104.7" x2="905.6" y2="93.2" stroke="#56c4c4" stroke-width="5.5" stroke-linecap="round"/>
<line x1="898.9" y1="104.7" x2="905.6" y2="93.2" stroke="#9eeeee" stroke-width="3.5" stroke-linecap="round"/>
<line x1="905.6" y1="93.2" x2="916.1" y2="89.4" stroke="#56c4c4" stroke-width="5.5" stroke-linecap="round"/>
<line x1="905.6" y1="93.2" x2="916.1" y2="89.4" stroke="#9eeeee" stroke-width="3.5" stroke-linecap="round"/>
<line x1="916.1" y1="89.4" x2="923.7" y2="79.8" stroke="#56c4c4" stroke-width="5.5" stroke-linecap="round"/>
<line x1="916.1" y1="89.4" x2="923.7" y2="79.8" stroke="#9eeeee" stroke-width="3.5" stroke-linecap="round"/>
<line x1="923.7" y1="79.8" x2="950.4" y2="91.3" stroke="#56c4c4" stroke-width="5.5" stroke-linecap="round"/>
<line x1="923.7" y1="79.8" x2="950.4" y2="91.3" stroke="#9eeeee" stroke-width="3.5" stroke-linecap="round"/>
<line x1="916.1" y1="89.4" x2="942.8" y2="102.7" stroke="#56c4c4" stroke-width="5.5" stroke-linecap="round"/>
<line x1="916.1" y1="89.4" x2="942.8" y2="102.7" stroke="#9eeeee" stroke-width="3.5" stroke-linecap="round"/>
<line x1="942.8" y1="102.7" x2="950.4" y2="91.3" stroke="#56c4c4" stroke-width="5.5" stroke-linecap="round"/>
<line x1="942.8" y1="102.7" x2="950.4" y2="91.3" stroke="#9eeeee" stroke-width="3.5" stroke-linecap="round"/>
<line x1="950.4" y1="91.3" x2="960.0" y2="86.5" stroke="#56c4c4" stroke-width="5.5" stroke-linecap="round"/>
<line x1="950.4" y1="91.3" x2="960.0" y2="86.5" stroke="#9eeeee" stroke-width="3.5" stroke-linecap="round"/>
<line x1="960.0" y1="86.5" x2="969.5" y2="76.0" stroke="#56c4c4" stroke-width="5.5" stroke-linecap="round"/>
<line x1="960.0" y1="86.5" x2="969.5" y2="76.0" stroke="#9eeeee" stroke-width="3.5" stroke-linecap="round"/>
<circle cx="898.9" cy="104.7" r="6.3" fill="url(#gTip)" stroke="#5fb8b8" stroke-width="0.9" fill-opacity="0.9"/>
<circle cx="905.6" cy="93.2" r="6.0" fill="url(#gTip)" stroke="#5fb8b8" stroke-width="0.9" fill-opacity="0.9"/>
<circle cx="916.1" cy="89.4" r="6.0" fill="url(#gTip)" stroke="#5fb8b8" stroke-width="0.9" fill-opacity="0.9"/>
<circle cx="923.7" cy="79.8" r="6.6" fill="url(#gTip)" stroke="#5fb8b8" stroke-width="0.9" fill-opacity="0.9"/>
<circle cx="942.8" cy="102.7" r="6.6" fill="url(#gTip)" stroke="#5fb8b8" stroke-width="0.9" fill-opacity="0.9"/>
<circle cx="950.4" cy="91.3" r="6.0" fill="url(#gTip)" stroke="#5fb8b8" stroke-width="0.9" fill-opacity="0.9"/>
<circle cx="960.0" cy="86.5" r="6.0" fill="url(#gTip)" stroke="#5fb8b8" stroke-width="0.9" fill-opacity="0.9"/>
<circle cx="969.5" cy="76.0" r="6.6" fill="url(#gTip)" stroke="#5fb8b8" stroke-width="0.9" fill-opacity="0.9"/>
<line x1="898.9" y1="117.0" x2="898.9" y2="95.0" stroke="#ee1111" stroke-width="1.5" stroke-linecap="round"/>
<polygon points="898.9,91.5 901.3,95.0 896.5,95.0" fill="#ee1111"/>
<line x1="905.6" y1="107.0" x2="905.6" y2="86.0" stroke="#ee1111" stroke-width="1.5" stroke-linecap="round"/>
<polygon points="905.6,82.5 908.0,86.0 903.2,86.0" fill="#ee1111"/>
<line x1="916.1" y1="102.0" x2="916.1" y2="82.0" stroke="#ee1111" stroke-width="1.5" stroke-linecap="round"/>
<polygon points="916.1,78.5 918.5,82.0 913.7,82.0" fill="#ee1111"/>
<line x1="923.7" y1="88.0" x2="923.7" y2="68.0" stroke="#ee1111" stroke-width="1.5" stroke-linecap="round"/>
<polygon points="923.7,64.5 926.1,68.0 921.3,68.0" fill="#ee1111"/>
<line x1="942.8" y1="90.0" x2="942.8" y2="111.0" stroke="#ee1111" stroke-width="1.5" stroke-linecap="round"/>
<polygon points="942.8,114.5 940.4,111.0 945.2,111.0" fill="#ee1111"/>
<circle cx="897.4" cy="139.5" r="6.7" fill="url(#gGr)" stroke="#6e6e6e" stroke-width="0.9" fill-opacity="0.92"/>
<circle cx="909.6" cy="138.6" r="6.7" fill="url(#gGr)" stroke="#6e6e6e" stroke-width="0.9" fill-opacity="0.92"/>
<circle cx="921.8" cy="137.6" r="6.7" fill="url(#gGr)" stroke="#6e6e6e" stroke-width="0.9" fill-opacity="0.92"/>
<circle cx="934.0" cy="136.6" r="6.7" fill="url(#gGr)" stroke="#6e6e6e" stroke-width="0.9" fill-opacity="0.92"/>
<circle cx="946.2" cy="135.6" r="6.7" fill="url(#gGr)" stroke="#6e6e6e" stroke-width="0.9" fill-opacity="0.92"/>
<circle cx="958.4" cy="134.7" r="6.7" fill="url(#gGr)" stroke="#6e6e6e" stroke-width="0.9" fill-opacity="0.92"/>
<circle cx="970.6" cy="133.7" r="6.7" fill="url(#gGr)" stroke="#6e6e6e" stroke-width="0.9" fill-opacity="0.92"/>
<circle cx="892.4" cy="146.9" r="6.7" fill="url(#gGr)" stroke="#6e6e6e" stroke-width="0.9" fill-opacity="0.92"/>
<circle cx="904.6" cy="146.0" r="6.7" fill="url(#gGr)" stroke="#6e6e6e" stroke-width="0.9" fill-opacity="0.92"/>
<circle cx="916.8" cy="145.0" r="6.7" fill="url(#gGr)" stroke="#6e6e6e" stroke-width="0.9" fill-opacity="0.92"/>
<circle cx="929.0" cy="144.0" r="6.7" fill="url(#gGr)" stroke="#6e6e6e" stroke-width="0.9" fill-opacity="0.92"/>
<circle cx="941.2" cy="143.0" r="6.7" fill="url(#gGr)" stroke="#6e6e6e" stroke-width="0.9" fill-opacity="0.92"/>
<circle cx="953.4" cy="142.1" r="6.7" fill="url(#gGr)" stroke="#6e6e6e" stroke-width="0.9" fill-opacity="0.92"/>
<circle cx="965.6" cy="141.1" r="6.7" fill="url(#gGr)" stroke="#6e6e6e" stroke-width="0.9" fill-opacity="0.92"/>
<circle cx="887.9" cy="155.3" r="6.7" fill="url(#gGr)" stroke="#6e6e6e" stroke-width="0.9" fill-opacity="0.92"/>
<circle cx="900.1" cy="154.3" r="6.7" fill="url(#gGr)" stroke="#6e6e6e" stroke-width="0.9" fill-opacity="0.92"/>
<circle cx="912.3" cy="153.3" r="6.7" fill="url(#gGr)" stroke="#6e6e6e" stroke-width="0.9" fill-opacity="0.92"/>
<circle cx="924.5" cy="152.4" r="6.7" fill="url(#gGr)" stroke="#6e6e6e" stroke-width="0.9" fill-opacity="0.92"/>
<circle cx="936.7" cy="151.4" r="6.7" fill="url(#gGr)" stroke="#6e6e6e" stroke-width="0.9" fill-opacity="0.92"/>
<circle cx="948.9" cy="150.4" r="6.7" fill="url(#gGr)" stroke="#6e6e6e" stroke-width="0.9" fill-opacity="0.92"/>
<circle cx="961.1" cy="149.4" r="6.7" fill="url(#gGr)" stroke="#6e6e6e" stroke-width="0.9" fill-opacity="0.92"/>
<line x1="887.0" y1="168.0" x2="887.0" y2="148.0" stroke="#ee1111" stroke-width="1.5" stroke-linecap="round"/>
<polygon points="887.0,144.5 889.4,148.0 884.6,148.0" fill="#ee1111"/>
<line x1="897.0" y1="165.0" x2="897.0" y2="138.0" stroke="#ee1111" stroke-width="1.5" stroke-linecap="round"/>
<polygon points="897.0,134.5 899.4,138.0 894.6,138.0" fill="#ee1111"/>
<line x1="903.0" y1="162.0" x2="903.0" y2="137.0" stroke="#ee1111" stroke-width="1.5" stroke-linecap="round"/>
<polygon points="903.0,133.5 905.4,137.0 900.6,137.0" fill="#ee1111"/>
<line x1="921.0" y1="142.0" x2="921.0" y2="164.0" stroke="#ee1111" stroke-width="1.5" stroke-linecap="round"/>
<polygon points="921.0,167.5 918.6,164.0 923.4,164.0" fill="#ee1111"/>
<line x1="927.0" y1="157.0" x2="927.0" y2="138.0" stroke="#ee1111" stroke-width="1.5" stroke-linecap="round"/>
<polygon points="927.0,134.5 929.4,138.0 924.6,138.0" fill="#ee1111"/>
<line x1="946.0" y1="152.0" x2="946.0" y2="138.0" stroke="#ee1111" stroke-width="1.5" stroke-linecap="round"/>
<polygon points="946.0,134.5 948.4,138.0 943.6,138.0" fill="#ee1111"/>
<line x1="967.0" y1="141.0" x2="967.0" y2="129.0" stroke="#ee1111" stroke-width="1.5" stroke-linecap="round"/>
<polygon points="967.0,125.5 969.4,129.0 964.6,129.0" fill="#ee1111"/>
<circle cx="909.9" cy="179.3" r="7" fill="url(#gCu)" stroke="#1785b0" stroke-width="0.9"/>
<circle cx="904.2" cy="186" r="7" fill="url(#gCu)" stroke="#1785b0" stroke-width="0.9"/>
<circle cx="899.4" cy="192.7" r="7" fill="url(#gCu)" stroke="#1785b0" stroke-width="0.9"/>
<circle cx="938.6" cy="177.4" r="7" fill="url(#gCu)" stroke="#1785b0" stroke-width="0.9"/>
<circle cx="932.8" cy="184.1" r="7" fill="url(#gCu)" stroke="#1785b0" stroke-width="0.9"/>
<circle cx="928.1" cy="190.8" r="7" fill="url(#gCu)" stroke="#1785b0" stroke-width="0.9"/>
<circle cx="968.2" cy="175.5" r="7" fill="url(#gCu)" stroke="#1785b0" stroke-width="0.9"/>
<circle cx="962.5" cy="181.2" r="7" fill="url(#gCu)" stroke="#1785b0" stroke-width="0.9"/>
<circle cx="957.7" cy="187.9" r="7" fill="url(#gCu)" stroke="#1785b0" stroke-width="0.9"/>
<circle cx="898.4" cy="209" r="7" fill="url(#gCu)" stroke="#1785b0" stroke-width="0.9"/>
<circle cx="892.7" cy="215.6" r="7" fill="url(#gCu)" stroke="#1785b0" stroke-width="0.9"/>
<circle cx="887" cy="222.3" r="7" fill="url(#gCu)" stroke="#1785b0" stroke-width="0.9"/>
<circle cx="927.1" cy="206.1" r="7" fill="url(#gCu)" stroke="#1785b0" stroke-width="0.9"/>
<circle cx="921.4" cy="211.8" r="7" fill="url(#gCu)" stroke="#1785b0" stroke-width="0.9"/>
<circle cx="916.6" cy="218.5" r="7" fill="url(#gCu)" stroke="#1785b0" stroke-width="0.9"/>
<circle cx="956.7" cy="203.2" r="7" fill="url(#gCu)" stroke="#1785b0" stroke-width="0.9"/>
<circle cx="951.9" cy="209" r="7" fill="url(#gCu)" stroke="#1785b0" stroke-width="0.9"/>
<circle cx="946.2" cy="215.6" r="7" fill="url(#gCu)" stroke="#1785b0" stroke-width="0.9"/>
<circle cx="886" cy="236.7" r="7" fill="url(#gCu)" stroke="#1785b0" stroke-width="0.9"/>
<circle cx="881.2" cy="243.3" r="7" fill="url(#gCu)" stroke="#1785b0" stroke-width="0.9"/>
<circle cx="876.5" cy="250" r="7" fill="url(#gCu)" stroke="#1785b0" stroke-width="0.9"/>
<circle cx="915.6" cy="233.8" r="7" fill="url(#gCu)" stroke="#1785b0" stroke-width="0.9"/>
<circle cx="910.9" cy="240.5" r="7" fill="url(#gCu)" stroke="#1785b0" stroke-width="0.9"/>
<circle cx="905.1" cy="247.2" r="7" fill="url(#gCu)" stroke="#1785b0" stroke-width="0.9"/>
<circle cx="945.3" cy="230.9" r="7" fill="url(#gCu)" stroke="#1785b0" stroke-width="0.9"/>
<circle cx="939.5" cy="237.6" r="7" fill="url(#gCu)" stroke="#1785b0" stroke-width="0.9"/>
<circle cx="934.7" cy="245.3" r="7" fill="url(#gCu)" stroke="#1785b0" stroke-width="0.9"/>
<circle cx="909.9" cy="256.7" r="7" fill="url(#gCu)" stroke="#1785b0" stroke-width="0.9"/>
<circle cx="904.2" cy="262.5" r="7" fill="url(#gCu)" stroke="#1785b0" stroke-width="0.9"/>
<circle cx="899.4" cy="269.1" r="7" fill="url(#gCu)" stroke="#1785b0" stroke-width="0.9"/>
<circle cx="938.6" cy="253.9" r="7" fill="url(#gCu)" stroke="#1785b0" stroke-width="0.9"/>
<circle cx="932.8" cy="260.5" r="7" fill="url(#gCu)" stroke="#1785b0" stroke-width="0.9"/>
<circle cx="928.1" cy="266.3" r="7" fill="url(#gCu)" stroke="#1785b0" stroke-width="0.9"/>
<circle cx="968.2" cy="251" r="7" fill="url(#gCu)" stroke="#1785b0" stroke-width="0.9"/>
<circle cx="962.5" cy="256.7" r="7" fill="url(#gCu)" stroke="#1785b0" stroke-width="0.9"/>
<circle cx="957.7" cy="263.4" r="7" fill="url(#gCu)" stroke="#1785b0" stroke-width="0.9"/>
<line x1="904.0" y1="172.0" x2="904.0" y2="190.0" stroke="#ee1111" stroke-width="1.5" stroke-linecap="round"/>
<polygon points="904.0,193.5 901.6,190.0 906.4,190.0" fill="#ee1111"/>
<line x1="905.0" y1="196.0" x2="905.0" y2="212.0" stroke="#ee1111" stroke-width="1.5" stroke-linecap="round"/>
<polygon points="905.0,215.5 902.6,212.0 907.4,212.0" fill="#ee1111"/>
<line x1="880.0" y1="236.0" x2="880.0" y2="248.0" stroke="#ee1111" stroke-width="1.5" stroke-linecap="round"/>
<polygon points="880.0,251.5 877.6,248.0 882.4,248.0" fill="#ee1111"/>
</g>
<g transform="translate(1344.7,203.4) scale(1.05) translate(-909.9,-179.3)">
<line x1="898.9" y1="104.7" x2="905.6" y2="93.2" stroke="#56c4c4" stroke-width="5.5" stroke-linecap="round"/>
<line x1="898.9" y1="104.7" x2="905.6" y2="93.2" stroke="#9eeeee" stroke-width="3.5" stroke-linecap="round"/>
<line x1="905.6" y1="93.2" x2="916.1" y2="89.4" stroke="#56c4c4" stroke-width="5.5" stroke-linecap="round"/>
<line x1="905.6" y1="93.2" x2="916.1" y2="89.4" stroke="#9eeeee" stroke-width="3.5" stroke-linecap="round"/>
<line x1="916.1" y1="89.4" x2="923.7" y2="79.8" stroke="#56c4c4" stroke-width="5.5" stroke-linecap="round"/>
<line x1="916.1" y1="89.4" x2="923.7" y2="79.8" stroke="#9eeeee" stroke-width="3.5" stroke-linecap="round"/>
<line x1="923.7" y1="79.8" x2="950.4" y2="91.3" stroke="#56c4c4" stroke-width="5.5" stroke-linecap="round"/>
<line x1="923.7" y1="79.8" x2="950.4" y2="91.3" stroke="#9eeeee" stroke-width="3.5" stroke-linecap="round"/>
<line x1="916.1" y1="89.4" x2="942.8" y2="102.7" stroke="#56c4c4" stroke-width="5.5" stroke-linecap="round"/>
<line x1="916.1" y1="89.4" x2="942.8" y2="102.7" stroke="#9eeeee" stroke-width="3.5" stroke-linecap="round"/>
<line x1="942.8" y1="102.7" x2="950.4" y2="91.3" stroke="#56c4c4" stroke-width="5.5" stroke-linecap="round"/>
<line x1="942.8" y1="102.7" x2="950.4" y2="91.3" stroke="#9eeeee" stroke-width="3.5" stroke-linecap="round"/>
<line x1="950.4" y1="91.3" x2="960.0" y2="86.5" stroke="#56c4c4" stroke-width="5.5" stroke-linecap="round"/>
<line x1="950.4" y1="91.3" x2="960.0" y2="86.5" stroke="#9eeeee" stroke-width="3.5" stroke-linecap="round"/>
<line x1="960.0" y1="86.5" x2="969.5" y2="76.0" stroke="#56c4c4" stroke-width="5.5" stroke-linecap="round"/>
<line x1="960.0" y1="86.5" x2="969.5" y2="76.0" stroke="#9eeeee" stroke-width="3.5" stroke-linecap="round"/>
<circle cx="898.9" cy="104.7" r="6.3" fill="url(#gTip)" stroke="#5fb8b8" stroke-width="0.9" fill-opacity="0.9"/>
<circle cx="905.6" cy="93.2" r="6.0" fill="url(#gTip)" stroke="#5fb8b8" stroke-width="0.9" fill-opacity="0.9"/>
<circle cx="916.1" cy="89.4" r="6.0" fill="url(#gTip)" stroke="#5fb8b8" stroke-width="0.9" fill-opacity="0.9"/>
<circle cx="923.7" cy="79.8" r="6.6" fill="url(#gTip)" stroke="#5fb8b8" stroke-width="0.9" fill-opacity="0.9"/>
<circle cx="942.8" cy="102.7" r="6.6" fill="url(#gTip)" stroke="#5fb8b8" stroke-width="0.9" fill-opacity="0.9"/>
<circle cx="950.4" cy="91.3" r="6.0" fill="url(#gTip)" stroke="#5fb8b8" stroke-width="0.9" fill-opacity="0.9"/>
<circle cx="960.0" cy="86.5" r="6.0" fill="url(#gTip)" stroke="#5fb8b8" stroke-width="0.9" fill-opacity="0.9"/>
<circle cx="969.5" cy="76.0" r="6.6" fill="url(#gTip)" stroke="#5fb8b8" stroke-width="0.9" fill-opacity="0.9"/>
<line x1="950.4" y1="96.0" x2="950.4" y2="86.0" stroke="#cc4466" stroke-width="1.5" stroke-linecap="round"/>
<polygon points="950.4,82.5 952.8,86.0 948.0,86.0" fill="#cc4466"/>
<line x1="960.0" y1="91.0" x2="960.0" y2="81.0" stroke="#cc4466" stroke-width="1.5" stroke-linecap="round"/>
<polygon points="960.0,77.5 962.4,81.0 957.6,81.0" fill="#cc4466"/>
<circle cx="897.4" cy="139.5" r="6.7" fill="url(#gGr)" stroke="#6e6e6e" stroke-width="0.9" fill-opacity="0.92"/>
<circle cx="909.6" cy="138.6" r="6.7" fill="url(#gGr)" stroke="#6e6e6e" stroke-width="0.9" fill-opacity="0.92"/>
<circle cx="921.8" cy="137.6" r="6.7" fill="url(#gGr)" stroke="#6e6e6e" stroke-width="0.9" fill-opacity="0.92"/>
<circle cx="934.0" cy="136.6" r="6.7" fill="url(#gGr)" stroke="#6e6e6e" stroke-width="0.9" fill-opacity="0.92"/>
<circle cx="946.2" cy="135.6" r="6.7" fill="url(#gGr)" stroke="#6e6e6e" stroke-width="0.9" fill-opacity="0.92"/>
<circle cx="958.4" cy="134.7" r="6.7" fill="url(#gGr)" stroke="#6e6e6e" stroke-width="0.9" fill-opacity="0.92"/>
<circle cx="970.6" cy="133.7" r="6.7" fill="url(#gGr)" stroke="#6e6e6e" stroke-width="0.9" fill-opacity="0.92"/>
<circle cx="892.4" cy="146.9" r="6.7" fill="url(#gGr)" stroke="#6e6e6e" stroke-width="0.9" fill-opacity="0.92"/>
<circle cx="904.6" cy="146.0" r="6.7" fill="url(#gGr)" stroke="#6e6e6e" stroke-width="0.9" fill-opacity="0.92"/>
<circle cx="916.8" cy="145.0" r="6.7" fill="url(#gGr)" stroke="#6e6e6e" stroke-width="0.9" fill-opacity="0.92"/>
<circle cx="929.0" cy="144.0" r="6.7" fill="url(#gGr)" stroke="#6e6e6e" stroke-width="0.9" fill-opacity="0.92"/>
<circle cx="941.2" cy="143.0" r="6.7" fill="url(#gGr)" stroke="#6e6e6e" stroke-width="0.9" fill-opacity="0.92"/>
<circle cx="953.4" cy="142.1" r="6.7" fill="url(#gGr)" stroke="#6e6e6e" stroke-width="0.9" fill-opacity="0.92"/>
<circle cx="965.6" cy="141.1" r="6.7" fill="url(#gGr)" stroke="#6e6e6e" stroke-width="0.9" fill-opacity="0.92"/>
<circle cx="887.9" cy="155.3" r="6.7" fill="url(#gGr)" stroke="#6e6e6e" stroke-width="0.9" fill-opacity="0.92"/>
<circle cx="900.1" cy="154.3" r="6.7" fill="url(#gGr)" stroke="#6e6e6e" stroke-width="0.9" fill-opacity="0.92"/>
<circle cx="912.3" cy="153.3" r="6.7" fill="url(#gGr)" stroke="#6e6e6e" stroke-width="0.9" fill-opacity="0.92"/>
<circle cx="924.5" cy="152.4" r="6.7" fill="url(#gGr)" stroke="#6e6e6e" stroke-width="0.9" fill-opacity="0.92"/>
<circle cx="936.7" cy="151.4" r="6.7" fill="url(#gGr)" stroke="#6e6e6e" stroke-width="0.9" fill-opacity="0.92"/>
<circle cx="948.9" cy="150.4" r="6.7" fill="url(#gGr)" stroke="#6e6e6e" stroke-width="0.9" fill-opacity="0.92"/>
<circle cx="961.1" cy="149.4" r="6.7" fill="url(#gGr)" stroke="#6e6e6e" stroke-width="0.9" fill-opacity="0.92"/>
<line x1="933.0" y1="148.0" x2="933.0" y2="138.0" stroke="#cc4466" stroke-width="1.5" stroke-linecap="round"/>
<polygon points="933.0,134.5 935.4,138.0 930.6,138.0" fill="#cc4466"/>
<line x1="949.0" y1="138.0" x2="949.0" y2="130.0" stroke="#cc4466" stroke-width="1.5" stroke-linecap="round"/>
<polygon points="949.0,126.5 951.4,130.0 946.6,130.0" fill="#cc4466"/>
<line x1="935.0" y1="150.0" x2="935.0" y2="162.0" stroke="#cc4466" stroke-width="1.5" stroke-linecap="round"/>
<polygon points="935.0,165.5 932.6,162.0 937.4,162.0" fill="#cc4466"/>
<circle cx="909.9" cy="179.3" r="7" fill="url(#gCu)" stroke="#1785b0" stroke-width="0.9"/>
<circle cx="904.2" cy="186" r="7" fill="url(#gCu)" stroke="#1785b0" stroke-width="0.9"/>
<circle cx="899.4" cy="192.7" r="7" fill="url(#gCu)" stroke="#1785b0" stroke-width="0.9"/>
<circle cx="938.6" cy="177.4" r="7" fill="url(#gCu)" stroke="#1785b0" stroke-width="0.9"/>
<circle cx="932.8" cy="184.1" r="7" fill="url(#gCu)" stroke="#1785b0" stroke-width="0.9"/>
<circle cx="928.1" cy="190.8" r="7" fill="url(#gCu)" stroke="#1785b0" stroke-width="0.9"/>
<circle cx="968.2" cy="175.5" r="7" fill="url(#gCu)" stroke="#1785b0" stroke-width="0.9"/>
<circle cx="962.5" cy="181.2" r="7" fill="url(#gCu)" stroke="#1785b0" stroke-width="0.9"/>
<circle cx="957.7" cy="187.9" r="7" fill="url(#gCu)" stroke="#1785b0" stroke-width="0.9"/>
<circle cx="898.4" cy="209" r="7" fill="url(#gCu)" stroke="#1785b0" stroke-width="0.9"/>
<circle cx="892.7" cy="215.6" r="7" fill="url(#gCu)" stroke="#1785b0" stroke-width="0.9"/>
<circle cx="887" cy="222.3" r="7" fill="url(#gCu)" stroke="#1785b0" stroke-width="0.9"/>
<circle cx="927.1" cy="206.1" r="7" fill="url(#gCu)" stroke="#1785b0" stroke-width="0.9"/>
<circle cx="921.4" cy="211.8" r="7" fill="url(#gCu)" stroke="#1785b0" stroke-width="0.9"/>
<circle cx="916.6" cy="218.5" r="7" fill="url(#gCu)" stroke="#1785b0" stroke-width="0.9"/>
<circle cx="956.7" cy="203.2" r="7" fill="url(#gCu)" stroke="#1785b0" stroke-width="0.9"/>
<circle cx="951.9" cy="209" r="7" fill="url(#gCu)" stroke="#1785b0" stroke-width="0.9"/>
<circle cx="946.2" cy="215.6" r="7" fill="url(#gCu)" stroke="#1785b0" stroke-width="0.9"/>
<circle cx="886" cy="236.7" r="7" fill="url(#gCu)" stroke="#1785b0" stroke-width="0.9"/>
<circle cx="881.2" cy="243.3" r="7" fill="url(#gCu)" stroke="#1785b0" stroke-width="0.9"/>
<circle cx="876.5" cy="250" r="7" fill="url(#gCu)" stroke="#1785b0" stroke-width="0.9"/>
<circle cx="915.6" cy="233.8" r="7" fill="url(#gCu)" stroke="#1785b0" stroke-width="0.9"/>
<circle cx="910.9" cy="240.5" r="7" fill="url(#gCu)" stroke="#1785b0" stroke-width="0.9"/>
<circle cx="905.1" cy="247.2" r="7" fill="url(#gCu)" stroke="#1785b0" stroke-width="0.9"/>
<circle cx="945.3" cy="230.9" r="7" fill="url(#gCu)" stroke="#1785b0" stroke-width="0.9"/>
<circle cx="939.5" cy="237.6" r="7" fill="url(#gCu)" stroke="#1785b0" stroke-width="0.9"/>
<circle cx="934.7" cy="245.3" r="7" fill="url(#gCu)" stroke="#1785b0" stroke-width="0.9"/>
<circle cx="909.9" cy="256.7" r="7" fill="url(#gCu)" stroke="#1785b0" stroke-width="0.9"/>
<circle cx="904.2" cy="262.5" r="7" fill="url(#gCu)" stroke="#1785b0" stroke-width="0.9"/>
<circle cx="899.4" cy="269.1" r="7" fill="url(#gCu)" stroke="#1785b0" stroke-width="0.9"/>
<circle cx="938.6" cy="253.9" r="7" fill="url(#gCu)" stroke="#1785b0" stroke-width="0.9"/>
<circle cx="932.8" cy="260.5" r="7" fill="url(#gCu)" stroke="#1785b0" stroke-width="0.9"/>
<circle cx="928.1" cy="266.3" r="7" fill="url(#gCu)" stroke="#1785b0" stroke-width="0.9"/>
<circle cx="968.2" cy="251" r="7" fill="url(#gCu)" stroke="#1785b0" stroke-width="0.9"/>
<circle cx="962.5" cy="256.7" r="7" fill="url(#gCu)" stroke="#1785b0" stroke-width="0.9"/>
<circle cx="957.7" cy="263.4" r="7" fill="url(#gCu)" stroke="#1785b0" stroke-width="0.9"/>
<line x1="913.0" y1="180.0" x2="913.0" y2="196.0" stroke="#cc4466" stroke-width="1.5" stroke-linecap="round"/>
<polygon points="913.0,199.5 910.6,196.0 915.4,196.0" fill="#cc4466"/>
<line x1="898.0" y1="214.0" x2="898.0" y2="226.0" stroke="#cc4466" stroke-width="1.5" stroke-linecap="round"/>
<polygon points="898.0,229.5 895.6,226.0 900.4,226.0" fill="#cc4466"/>
<line x1="887.0" y1="240.0" x2="887.0" y2="256.0" stroke="#cc4466" stroke-width="1.5" stroke-linecap="round"/>
<polygon points="887.0,259.5 884.6,256.0 889.4,256.0" fill="#cc4466"/>
<line x1="905.0" y1="245.0" x2="905.0" y2="262.0" stroke="#cc4466" stroke-width="1.5" stroke-linecap="round"/>
<polygon points="905.0,265.5 902.6,262.0 907.4,262.0" fill="#cc4466"/>
<line x1="957.0" y1="252.0" x2="957.0" y2="268.0" stroke="#cc4466" stroke-width="1.5" stroke-linecap="round"/>
<polygon points="957.0,271.5 954.6,268.0 959.4,268.0" fill="#cc4466"/>
</g>
<text x="606.5" y="455.5" font-size="29.5" text-anchor="start" font-family="'Liberation Sans', Arial, Helvetica, sans-serif" font-weight="normal" font-style="italic" stroke="#000" stroke-width="0.45" >ω</text>
<text x="630.0" y="462.5" font-size="20" text-anchor="start" font-family="'Liberation Serif', 'Times New Roman', serif" font-weight="normal" font-style="normal" stroke="#000" stroke-width="0.45" >1</text>
<text x="648.0" y="455.5" font-size="29" text-anchor="start" font-family="'Liberation Sans', Arial, Helvetica, sans-serif" font-weight="normal" font-style="normal" stroke="#000" stroke-width="0.45" >(1.26 eV)</text>
<text x="842.6" y="323.5" font-size="29.5" text-anchor="start" font-family="'Liberation Sans', Arial, Helvetica, sans-serif" font-weight="normal" font-style="italic" stroke="#000" stroke-width="0.45" >ω</text>
<text x="864.0" y="329.5" font-size="20" text-anchor="start" font-family="'Liberation Serif', 'Times New Roman', serif" font-weight="normal" font-style="normal" stroke="#000" stroke-width="0.45" >2</text>
<text x="879.2" y="323.5" font-size="29" text-anchor="start" font-family="'Liberation Sans', Arial, Helvetica, sans-serif" font-weight="normal" font-style="normal" stroke="#000" stroke-width="0.45" >(4.66 eV)</text>
<text x="1054.1" y="483.3" font-size="29.5" text-anchor="start" font-family="'Liberation Sans', Arial, Helvetica, sans-serif" font-weight="normal" font-style="italic" stroke="#000" stroke-width="0.45" >ω</text>
<text x="1075.6" y="489.3" font-size="20" text-anchor="start" font-family="'Liberation Serif', 'Times New Roman', serif" font-weight="normal" font-style="normal" stroke="#000" stroke-width="0.45" >4</text>
<text x="1090.3" y="483.3" font-size="29" text-anchor="start" font-family="'Liberation Sans', Arial, Helvetica, sans-serif" font-weight="normal" font-style="normal" stroke="#000" stroke-width="0.45" >(5.55 eV)</text>
<text x="1277.3" y="341.5" font-size="29.5" text-anchor="start" font-family="'Liberation Sans', Arial, Helvetica, sans-serif" font-weight="normal" font-style="italic" stroke="#000" stroke-width="0.45" >ω</text>
<text x="1298.6" y="347.7" font-size="20" text-anchor="start" font-family="'Liberation Serif', 'Times New Roman', serif" font-weight="normal" font-style="italic" stroke="#000" stroke-width="0.45" >5</text>
<text x="1313.9" y="341.5" font-size="29" text-anchor="start" font-family="'Liberation Sans', Arial, Helvetica, sans-serif" font-weight="normal" font-style="normal" stroke="#000" stroke-width="0.45" >(10.02 eV)</text>
<text x="627.0" y="337.3" font-size="39" text-anchor="start" font-family="'Liberation Serif', 'Times New Roman', serif" font-weight="normal" font-style="normal" stroke="#000" stroke-width="0.45" >I</text>
<text x="1021.7" y="225.4" font-size="39" text-anchor="start" font-family="'Liberation Serif', 'Times New Roman', serif" font-weight="normal" font-style="normal" stroke="#000" stroke-width="0.45" >II</text>
<text x="1027.1" y="144.2" font-size="39" text-anchor="start" font-family="'Liberation Serif', 'Times New Roman', serif" font-weight="normal" font-style="normal" stroke="#000" stroke-width="0.45" >III</text>
<text x="1167.6" y="158.4" font-size="39" text-anchor="start" font-family="'Liberation Serif', 'Times New Roman', serif" font-weight="normal" font-style="normal" stroke="#000" stroke-width="0.45" >IV</text>
<text x="1458.0" y="379.1" font-size="39" text-anchor="start" font-family="'Liberation Serif', 'Times New Roman', serif" font-weight="normal" font-style="normal" stroke="#000" stroke-width="0.45" >V</text>
<circle cx="596.5" cy="354.4" r="19.9" fill="none" stroke="#000" stroke-width="1.9"/>
<circle cx="1080" cy="232" r="19.7" fill="none" stroke="#000" stroke-width="1.9"/>
<circle cx="1091.8" cy="170" r="19.8" fill="none" stroke="#000" stroke-width="1.9"/>
<circle cx="1150.2" cy="110.3" r="19.5" fill="none" stroke="#000" stroke-width="1.9"/>
<circle cx="1470" cy="305" r="19.5" fill="none" stroke="#000" stroke-width="1.9"/>
</svg></body></html>
